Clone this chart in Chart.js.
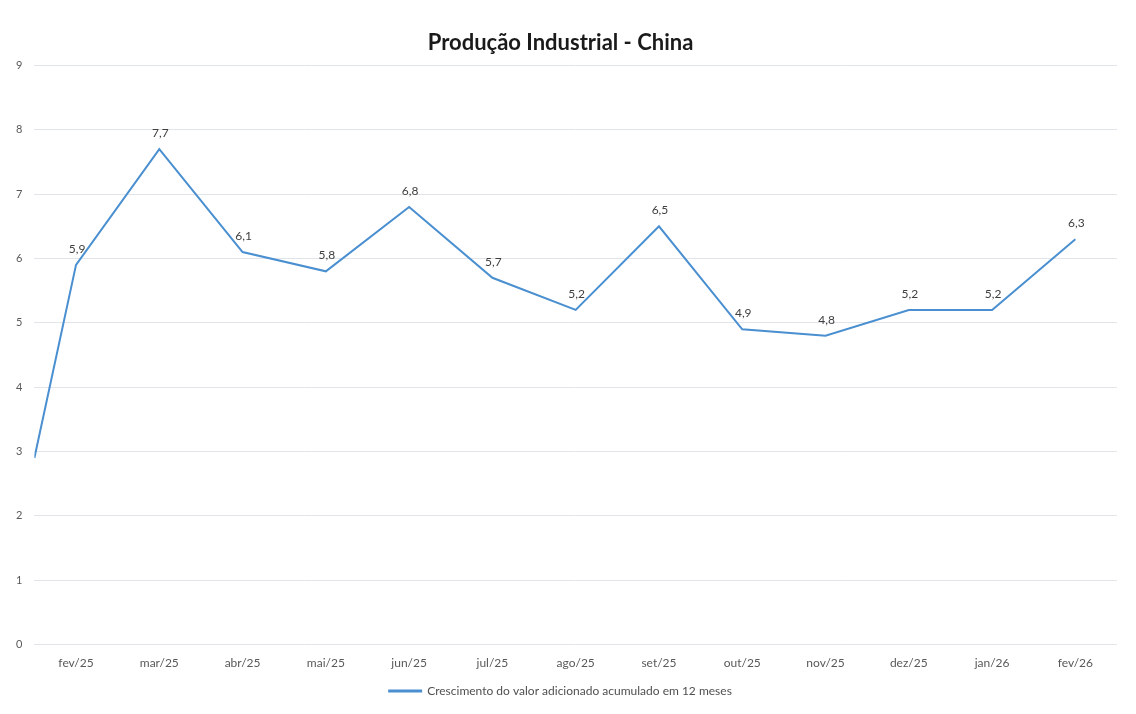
<!doctype html>
<html lang="pt">
<head>
<meta charset="utf-8">
<title>Produção Industrial - China</title>
<script src="https://cdn.jsdelivr.net/npm/chart.js@4"></script>
<style>
  html, body { margin: 0; padding: 0; background: #fff; }
  #wrap { width: 1136px; height: 714px; }
</style>
</head>
<body>
<div id="wrap"><canvas id="chart" width="1136" height="714"></canvas></div>
<script>
// months on the x axis
const months = ['fev/25', 'mar/25', 'abr/25', 'mai/25', 'jun/25', 'jul/25', 'ago/25',
                'set/25', 'out/25', 'nov/25', 'dez/25', 'jan/26', 'fev/26'];
// accumulated 12-month growth (%)
const growth = [5.9, 7.7, 6.1, 5.8, 6.8, 5.7, 5.2, 6.5, 4.9, 4.8, 5.2, 5.2, 6.3];
// the line enters from the axis edge at about 2.9, half a month before fev/25
const startValue = 2.9;
const yTicks = [0, 1, 2, 3, 4, 5, 6, 7, 8, 9];

const lineBlue = '#4a8fd0';

const points = [{ x: -0.5, y: startValue, lbl: false }];
months.forEach((m, i) => points.push({ x: i, y: growth[i], lbl: true }));

// small plugin: value labels over each month point, decimal comma
const valueLabels = {
  id: 'valueLabels',
  afterDatasetsDraw(chart) {
    const ctx = chart.ctx;
    const meta = chart.getDatasetMeta(0);
    ctx.save();
    ctx.font = '12px Lato';
    ctx.fillStyle = '#404040';
    ctx.textAlign = 'center';
    ctx.textBaseline = 'bottom';
    meta.data.forEach((el, i) => {
      const p = points[i];
      if (!p.lbl) return;
      ctx.fillText(p.y.toFixed(1).replace('.', ','), el.x + 1, el.y - 10);
    });
    ctx.restore();
  }
};

new Chart(document.getElementById('chart'), {
  type: 'line',
  data: {
    datasets: [{
      label: 'Crescimento do valor adicionado acumulado em 12 meses',
      data: points,
      borderColor: lineBlue,
      backgroundColor: lineBlue,
      borderWidth: 2,
      pointRadius: 0,
      tension: 0
    }]
  },
  options: {
    responsive: false,
    animation: false,
    layout: { padding: { top: 30, left: 4, right: 19, bottom: 7 } },
    plugins: {
      title: {
        display: true,
        text: 'Produção Industrial - China',
        font: { family: 'Lato', size: 22, weight: 'bold' },
        color: '#1a1a1a',
        padding: { top: 0, bottom: 9 }
      },
      legend: {
        position: 'bottom',
        labels: {
          font: { family: 'Lato', size: 12 },
          color: '#505050',
          boxWidth: 32,
          boxHeight: 1,
          padding: 12
        }
      },
      tooltip: { enabled: false }
    },
    scales: {
      x: {
        type: 'linear',
        min: -0.5,
        max: months.length - 0.5,
        afterBuildTicks: s => { s.ticks = months.map((m, i) => ({ value: i })); },
        ticks: {
          callback: v => months[v],
          font: { family: 'Lato', size: 12 },
          color: '#595959',
          padding: 3,
          maxRotation: 0
        },
        grid: { display: false },
        border: { display: false }
      },
      y: {
        min: 0,
        max: 9,
        afterBuildTicks: s => { s.ticks = yTicks.map(v => ({ value: v })); },
        ticks: {
          font: { family: 'Lato', size: 11 },
          color: '#595959',
          padding: 12
        },
        grid: { color: '#e1e5ea', lineWidth: 1, drawTicks: false },
        border: { display: false }
      }
    }
  },
  plugins: [valueLabels]
});
</script>
</body>
</html>
